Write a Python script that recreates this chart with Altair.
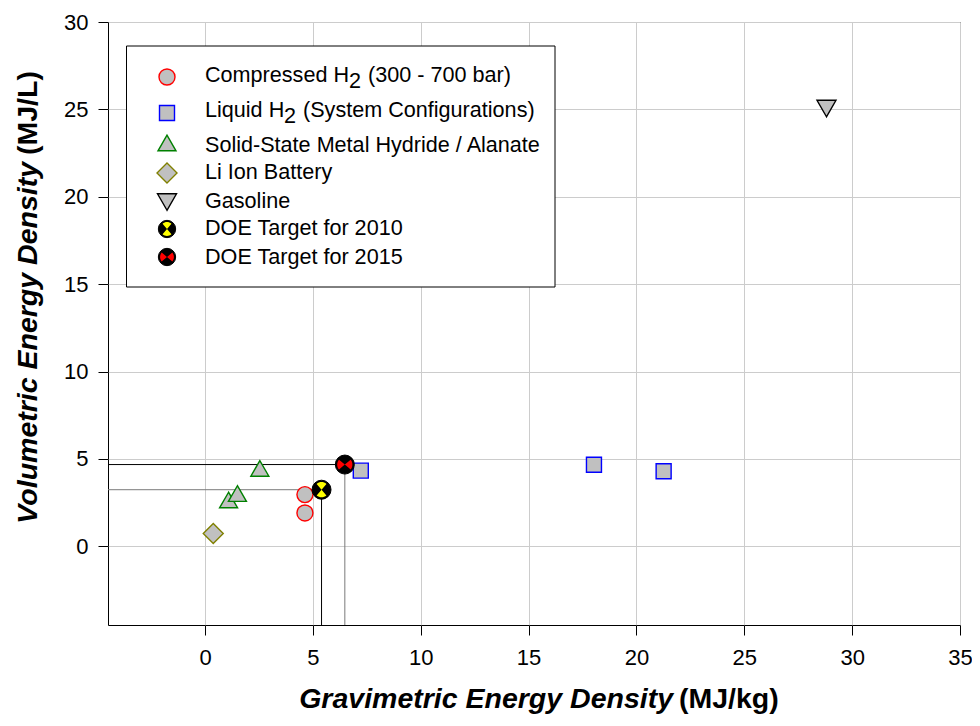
import altair as alt
import pandas as pd

# ---------------- data ----------------
X_DOMAIN = [-4.5, 35]
Y_DOMAIN = [-4.5, 30]
x_ticks = [0, 5, 10, 15, 20, 25, 30, 35]
y_ticks = [0, 5, 10, 15, 20, 25, 30]

compressed_x = [4.63, 4.63]
compressed_y = [2.96, 1.91]
liquid_x = [7.22, 18.03, 21.26]
liquid_y = [4.33, 4.67, 4.30]
solid_x = [1.09, 1.50, 2.54]
solid_y = [2.65, 3.02, 4.46]
liion_x = [0.38]
liion_y = [0.73]
gasoline_x = [28.81]
gasoline_y = [25.05]
doe_years = ["2010", "2015"]
doe_x = [5.4, 6.48]
doe_y = [3.24, 4.68]

legend_labels = [
    "Compressed H2 (300 - 700 bar)",
    "Liquid H2 (System Configurations)",
    "Solid-State Metal Hydride / Alanate",
    "Li Ion Battery",
    "Gasoline",
    "DOE Target for 2010",
    "DOE Target for 2015",
]
x_title_parts = ["Gravimetric Energy Density", "(MJ/kg)"]
y_title_parts = ["Volumetric Energy Density", "(MJ/L)"]

# ---------------- styling ----------------
FONT = "Liberation Sans, Arial, Helvetica, sans-serif"
GRAY = "#c0c0c0"
W, H = 852, 603

xscale = alt.Scale(domain=X_DOMAIN, nice=False, zero=False)
yscale = alt.Scale(domain=Y_DOMAIN, nice=False, zero=False)
axis_common = dict(title=None, grid=True, gridColor="#cccccc", gridWidth=1,
                   domain=False, ticks=True, tickColor="#000", tickSize=10,
                   tickWidth=1, labelFont=FONT, labelFontSize=22,
                   labelColor="#000", labelFlush=False, labelOverlap=False)
xaxis = alt.Axis(values=x_ticks, labelPadding=12, **axis_common)
yaxis = alt.Axis(values=y_ticks, labelPadding=10, **axis_common)


def xenc(field="x"):
    return alt.X(f"{field}:Q", scale=xscale, axis=xaxis)


def yenc(field="y"):
    return alt.Y(f"{field}:Q", scale=yscale, axis=yaxis)


def pts(xs, ys):
    return pd.DataFrame({"x": xs, "y": ys})


layers = []

# DOE guide lines
line_colors = {"2010": ("#7a7a7a", "#000000"), "2015": ("#000000", "#7a7a7a")}
for yr, dx, dy in zip(doe_years, doe_x, doe_y):
    hcol, vcol = line_colors[yr]
    hdf = pd.DataFrame({"x": [X_DOMAIN[0]], "x2": [dx], "y": [dy]})
    vdf = pd.DataFrame({"x": [dx], "y": [Y_DOMAIN[0]], "y2": [dy]})
    layers.append(alt.Chart(hdf).mark_rule(color=hcol, strokeWidth=1).encode(
        x=xenc(), x2="x2:Q", y=yenc()))
    layers.append(alt.Chart(vdf).mark_rule(color=vcol, strokeWidth=1).encode(
        x=xenc(), y=yenc(), y2="y2:Q"))

# marker styles
STY = {
    "compressed": dict(shape="circle", size=256, fill=GRAY, stroke="#ff0000"),
    "liquid": dict(shape="square", size=225, fill=GRAY, stroke="#0000ff"),
    "solid": dict(shape="triangle-up", size=324, fill=GRAY, stroke="#008000"),
    "liion": dict(shape="diamond", size=400, fill=GRAY, stroke="#808000"),
    "gasoline": dict(shape="triangle-down", size=361, fill=GRAY, stroke="#000000"),
}

series = [
    ("compressed", compressed_x, compressed_y),
    ("liquid", liquid_x, liquid_y),
    ("solid", solid_x, solid_y),
    ("liion", liion_x, liion_y),
    ("gasoline", gasoline_x, gasoline_y),
]
for key, xs, ys in series:
    s = STY[key]
    layers.append(alt.Chart(pts(xs, ys)).mark_point(
        filled=True, opacity=1, strokeWidth=1.4, **s).encode(x=xenc(), y=yenc()))

# DOE target symbols
WEDGE_TB = ("M0,0L-0.514,-0.613A0.8,0.8 0 0,1 0.514,-0.613Z"
            "M0,0L0.514,0.613A0.8,0.8 0 0,1 -0.514,0.613Z")
WEDGE_LR = ("M0,0L-0.613,0.514A0.8,0.8 0 0,1 -0.613,-0.514Z"
            "M0,0L0.613,-0.514A0.8,0.8 0 0,1 0.613,0.514Z")
DOE_STY = {"2010": (WEDGE_TB, "#ffff00"), "2015": (WEDGE_LR, "#ff0000")}

for yr, dx, dy in zip(doe_years, doe_x, doe_y):
    path, col = DOE_STY[yr]
    df = pts([dx], [dy])
    layers.append(alt.Chart(df).mark_point(
        shape="circle", size=361, filled=True, fill="#000", stroke="#000",
        strokeWidth=1, opacity=1).encode(x=xenc(), y=yenc()))
    layers.append(alt.Chart(df).mark_point(
        shape=path, size=361, filled=True, fill=col, strokeWidth=0,
        opacity=1).encode(x=xenc(), y=yenc()))

# ---------------- legend (drawn by hand) ----------------
dummy = pd.DataFrame({"d": [0]})
layers.append(alt.Chart(dummy).mark_rect(fill="white", stroke="#000", strokeWidth=1).encode(
    x=alt.value(18.5), x2=alt.value(447), y=alt.value(24), y2=alt.value(265)))

LEG_SYM_X = 59
LEG_TXT_X = 97
LEG_FS = 21.6
leg_sym_y = [55, 91, 121, 151, 180, 207, 235]
leg_txt_y = [54, 89, 124, 150.5, 179.5, 207, 236]
leg_keys = ["compressed", "liquid", "solid", "liion", "gasoline", "2010", "2015"]

for i, key in enumerate(leg_keys):
    if key in STY:
        s = STY[key]
        layers.append(alt.Chart(dummy).mark_point(
            filled=True, opacity=1, strokeWidth=1.4, **s).encode(
            x=alt.value(LEG_SYM_X), y=alt.value(leg_sym_y[i])))
    else:
        path, col = DOE_STY[key]
        layers.append(alt.Chart(dummy).mark_point(
            shape="circle", size=300, filled=True, fill="#000", stroke="#000",
            strokeWidth=1, opacity=1).encode(
            x=alt.value(LEG_SYM_X), y=alt.value(leg_sym_y[i])))
        layers.append(alt.Chart(dummy).mark_point(
            shape=path, size=300, filled=True, fill=col, strokeWidth=0,
            opacity=1).encode(x=alt.value(LEG_SYM_X), y=alt.value(leg_sym_y[i])))


def txt(text, x, y, size=LEG_FS, align="left", baseline="middle", **kw):
    return alt.Chart(dummy).mark_text(
        align=align, baseline=baseline, font=FONT, fontSize=size,
        color="#000", **kw).encode(x=alt.value(x), y=alt.value(y), text=alt.value(text))


# labels with a subscript "2" in "H2"
sub_pos = {0: (241, 260), 1: (176, 195)}
for i, lab in enumerate(legend_labels):
    ty = leg_txt_y[i]
    if i in sub_pos:
        head, tail = lab.split("H2 ", 1)
        sx, tx = sub_pos[i]
        layers.append(txt(head + "H", LEG_TXT_X, ty))
        layers.append(txt("2", sx, ty + 6))
        layers.append(txt(tail, tx, ty))
    else:
        layers.append(txt(lab, LEG_TXT_X, ty))

# ---------------- axis titles (mixed bold italic / bold) ----------------
layers.append(txt(x_title_parts[0], 565, 686, size=28.5, align="right",
                  baseline="alphabetic", fontWeight="bold", fontStyle="italic"))
layers.append(txt(x_title_parts[1], 571, 686, size=28.5, align="left",
                  baseline="alphabetic", fontWeight="bold"))
layers.append(txt(y_title_parts[0], -71, 140, size=28.5, align="right",
                  baseline="alphabetic", fontWeight="bold", fontStyle="italic", angle=270))
layers.append(txt(y_title_parts[1], -71, 133, size=28.5, align="left",
                  baseline="alphabetic", fontWeight="bold", angle=270))

chart = alt.layer(*layers).properties(
    width=W, height=H,
    autosize=alt.AutoSizeParams(type="none"),
    padding={"left": 100, "top": 14, "right": 12, "bottom": 92},
    background="white",
).configure_view(stroke="#000", strokeWidth=1)

chart.save("out.html", embed_options={"renderer": "svg", "actions": False})
